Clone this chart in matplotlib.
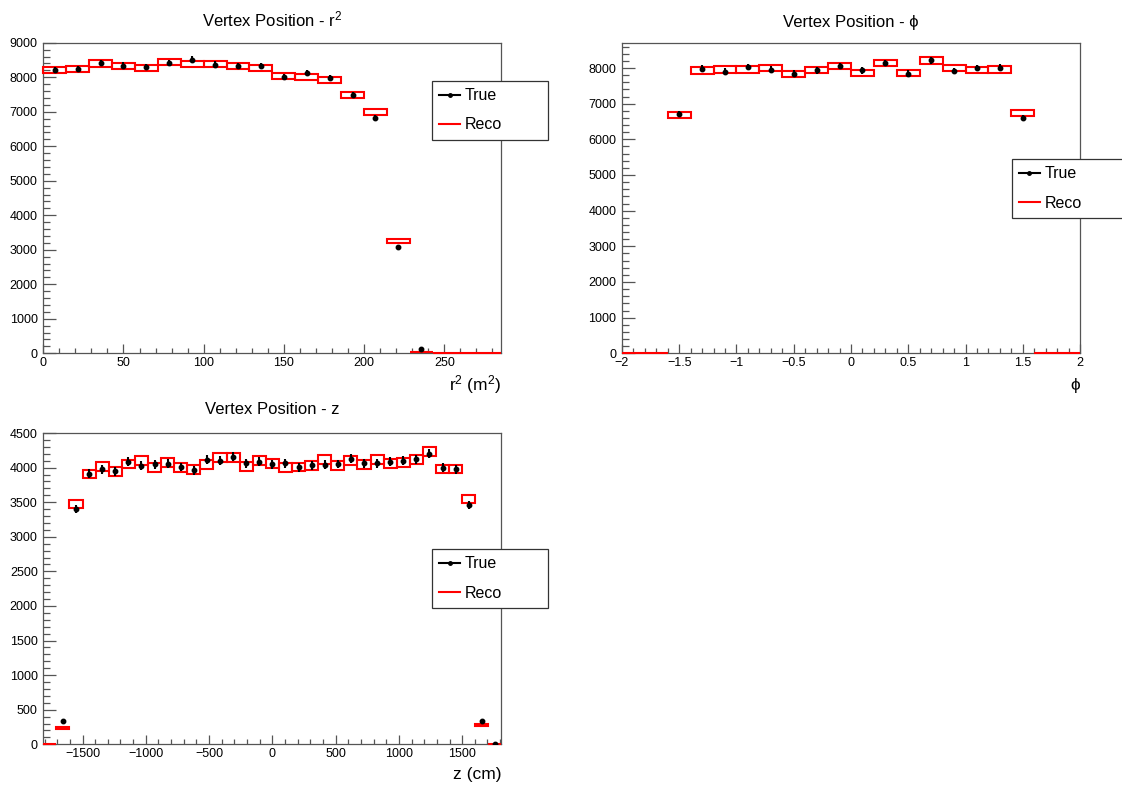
import numpy as np
import matplotlib
matplotlib.use("Agg")
import matplotlib.pyplot as plt
from matplotlib.lines import Line2D
from matplotlib.ticker import MultipleLocator, FuncFormatter

plt.rcParams['font.family'] = ['Liberation Sans', 'DejaVu Sans']
plt.rcParams['mathtext.fontset'] = 'custom'
plt.rcParams['mathtext.rm'] = 'Liberation Sans'
plt.rcParams['mathtext.it'] = 'Liberation Sans:italic'

# r^2 histogram: 20 bins up to the inner detector radius squared, (16.9 m)^2
r2_edges = np.linspace(0, 16.9**2, 21)
r2_true = [8219, 8229, 8412, 8335, 8287, 8412, 8508, 8364, 8326, 8326,
           8005, 8112, 7978, 7487, 6810, 3088, 115, 0, 0, 0]
r2_reco = [8210, 8240, 8402, 8326, 8277, 8445, 8373, 8383, 8326, 8263,
           8030, 8006, 7930, 7481, 6984, 3261, 35, 0, 0, 0]

# phi histogram: 20 bins in [-2, 2]
phi_edges = np.linspace(-2, 2, 21)
phi_true = [0, 0, 6720, 7983, 7898, 8028, 7954, 7842, 7935, 8057,
            7935, 8141, 7842, 8216, 7917, 8000, 8010, 6599, 0, 0]
phi_reco = [0, 0, 6674, 7930, 7954, 7960, 7996, 7833, 7940, 8062,
            7856, 8141, 7860, 8207, 8005, 7940, 7959, 6739, 0, 0]

# z histogram: 35 bins over the half height of 1810 cm
z_edges = np.linspace(-1810, 1810, 36)
z_true = [0, 337, 3402, 3913, 3976, 3947, 4087, 4029, 4049, 4058,
          4010, 3962, 4115, 4097, 4159, 4063, 4082, 4048, 4063, 4005,
          4034, 4043, 4053, 4125, 4063, 4063, 4087, 4097, 4121, 4198,
          4000, 3976, 3460, 337, 3]
z_reco = [0, 240, 3475, 3906, 4012, 3940, 4053, 4108, 4000, 4070,
          3998, 3969, 4046, 4152, 4150, 4014, 4106, 4060, 4000, 4010,
          4027, 4116, 4029, 4104, 4046, 4111, 4056, 4077, 4123, 4231,
          3978, 3978, 3547, 282, 0]

W, H = 1122, 787
fig = plt.figure(figsize=(W / 100, H / 100), dpi=100)


def px_axes(x0, y0, x1, y1):
    return fig.add_axes([x0 / W, 1 - y1 / H, (x1 - x0) / W, (y1 - y0) / H])


def draw_hist(ax, edges, true, reco):
    edges = np.asarray(edges, float)
    centers = 0.5 * (edges[1:] + edges[:-1])
    widths = np.diff(edges)
    true = np.asarray(true, float)
    reco = np.asarray(reco, float)
    err = np.sqrt(reco)
    # reco drawn as error boxes (like ROOT "E2" without fill)
    ax.bar(centers, 2 * err, bottom=reco - err, width=widths, fill=False,
           edgecolor='red', linewidth=1.5, zorder=3, clip_on=False)
    m = true > 0
    ax.errorbar(centers[m], true[m], yerr=np.sqrt(true[m]), fmt='o', ms=3.2,
                color='black', ecolor='black', elinewidth=1.5, capsize=0,
                zorder=4)


def style_axes(ax, xmaj, xmin, ymaj, ymin):
    fmt = FuncFormatter(lambda v, _: f"{v:g}".replace('-', '\u2212'))
    ax.xaxis.set_major_locator(MultipleLocator(xmaj))
    ax.xaxis.set_minor_locator(MultipleLocator(xmin))
    ax.yaxis.set_major_locator(MultipleLocator(ymaj))
    ax.yaxis.set_minor_locator(MultipleLocator(ymin))
    ax.xaxis.set_major_formatter(fmt)
    ax.yaxis.set_major_formatter(fmt)
    ax.tick_params(which='both', direction='in', top=False, right=False,
                   color='#555555', width=0.9, labelsize=9)
    ax.tick_params(axis='x', which='major', length=6.5, pad=3)
    ax.tick_params(axis='x', which='minor', length=3.4)
    ax.tick_params(axis='y', which='major', length=9.5, pad=4)
    ax.tick_params(axis='y', which='minor', length=5)
    for s in ax.spines.values():
        s.set_color('#555555')
        s.set_linewidth(0.9)


def add_legend(ax, x0, ytop):
    handles = [Line2D([], [], color='black', marker='o', ms=2.5, lw=1.5),
               Line2D([], [], color='red', lw=1.5)]
    leg = ax.legend(handles, ['True', 'Reco'], loc='upper left',
                    bbox_to_anchor=(x0, ytop - 0.2, 0.2532, 0.2),
                    mode='expand', borderaxespad=0, fontsize=11.5,
                    frameon=True, fancybox=False, edgecolor='#333333',
                    framealpha=1, handlelength=1.3, handletextpad=0.3,
                    borderpad=0.45, labelspacing=0.9)
    leg.get_frame().set_linewidth(0.9)


# r^2 panel
ax1 = px_axes(43.3, 42.7, 501.4, 353.3)
draw_hist(ax1, r2_edges, r2_true, r2_reco)
ax1.set_xlim(r2_edges[0], r2_edges[-1])
ax1.set_ylim(0, 9000)
style_axes(ax1, 50, 10, 1000, 200)
ax1.set_title('Vertex Position - r$^2$', fontsize=12, pad=11.5)
ax1.set_xlabel('r$^2$ (m$^2$)', fontsize=12.5, ha='right', va='baseline')
ax1.xaxis.set_label_coords(1.0, -0.118)
add_legend(ax1, 0.849, 0.877)

# phi panel
ax2 = px_axes(621.9, 42.7, 1080.1, 353.3)
draw_hist(ax2, phi_edges, phi_true, phi_reco)
ax2.set_xlim(phi_edges[0], phi_edges[-1])
ax2.set_ylim(0, 8710)
style_axes(ax2, 0.5, 0.1, 1000, 200)
ax2.set_title('Vertex Position - \u03d5', fontsize=12, pad=11.5)
ax2.set_xlabel('\u03d5', fontsize=12.5, ha='right', va='baseline')
ax2.xaxis.set_label_coords(1.0, -0.118)
add_legend(ax2, 0.8507, 0.6256)

# z panel
ax3 = px_axes(43.3, 433.0, 501.4, 744.3)
draw_hist(ax3, z_edges, z_true, z_reco)
ax3.set_xlim(z_edges[0], z_edges[-1])
ax3.set_ylim(0, 4500)
style_axes(ax3, 500, 100, 500, 100)
ax3.set_title('Vertex Position - z', fontsize=12, pad=14)
ax3.set_xlabel('z (cm)', fontsize=12.5, ha='right', va='baseline')
ax3.xaxis.set_label_coords(1.0, -0.11)
add_legend(ax3, 0.849, 0.6274)

fig.savefig('out.png', dpi=100)
